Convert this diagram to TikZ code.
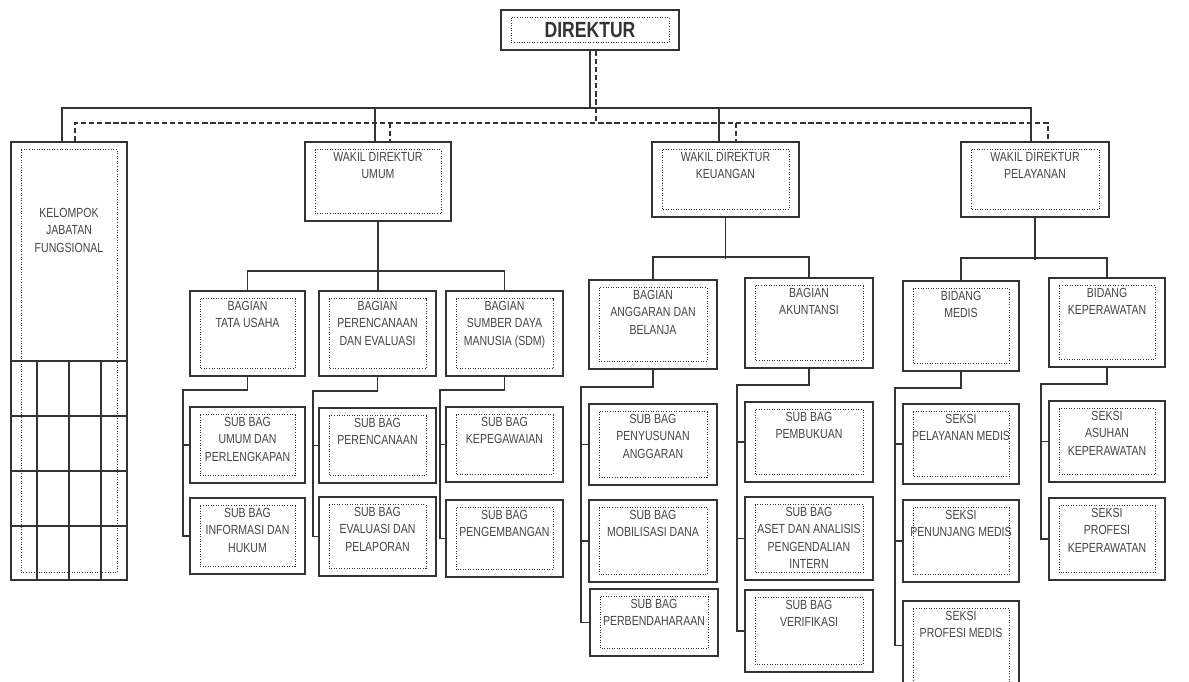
\documentclass[tikz,border=0pt]{standalone}
\usepackage{fontspec}
\usetikzlibrary{fit}
\newfontfamily\orgfont[FakeStretch=0.8]{Liberation Sans}
\definecolor{ink}{HTML}{333333}
\definecolor{txt}{HTML}{444444}

\begin{document}
\begin{tikzpicture}[x=0.02cm, y=-0.02cm,
  unit/.style={draw=ink, line width=1pt, inner sep=0pt, fit={#1},
    path picture={\draw[ink, line width=0.45pt, densely dotted]
      ([xshift=0.2cm, yshift=-0.15cm]path picture bounding box.north west) rectangle
      ([xshift=-0.2cm, yshift=0.15cm]path picture bounding box.south east);}},
  caption/.style={anchor=north, align=center, inner sep=0pt, text=txt, yshift=-0.22cm,
    font=\orgfont\fontsize{7.5}{9.8}\selectfont},
  conn/.style={ink, line width=0.9pt},
  dashline/.style={ink, line width=0.9pt, dash pattern=on 3pt off 1.6pt}]
\useasboundingbox (0,0) rectangle (1189,681);
\clip (0,0) rectangle (1189,681);

\node[unit={(501,10) (679,50)}, label={[anchor=center, inner sep=0pt, text=ink, font=\orgfont\bfseries\fontsize{12.5}{14}\selectfont]center:DIREKTUR}] (dir) {};

\node[unit={(11,142) (127,580)}, label={[caption, yshift=-1.12cm]north:{KELOMPOK\\JABATAN\\FUNGSIONAL}}] (kjf) {};
\foreach \gy in {361,416,471,526}
  \draw[conn] (kjf.west |- 0,\gy) -- (kjf.east |- 0,\gy);
\foreach \gx in {37,69,101}
  \draw[conn] (\gx,361) -- (\gx,0 |- kjf.south);

\node[unit={(305,142) (451,221)}, label={[caption]north:{WAKIL DIREKTUR\\UMUM}}] (wdu) {};
\node[unit={(652,142) (799,217)}, label={[caption]north:{WAKIL DIREKTUR\\KEUANGAN}}] (wdk) {};
\node[unit={(961,142) (1109,217)}, label={[caption]north:{WAKIL DIREKTUR\\PELAYANAN}}] (wdp) {};

\node[unit={(190,291) (305,376)}, label={[caption]north:{BAGIAN\\TATA USAHA}}] (btu) {};
\node[unit={(319,291) (436,376)}, label={[caption]north:{BAGIAN\\PERENCANAAN\\DAN EVALUASI}}] (bpe) {};
\node[unit={(446,291) (563,376)}, label={[caption]north:{BAGIAN\\SUMBER DAYA\\MANUSIA (SDM)}}] (bsd) {};
\node[unit={(190,407) (305,483)}, label={[caption]north:{SUB BAG\\UMUM DAN\\PERLENGKAPAN}}] (sup) {};
\node[unit={(190,498) (305,574)}, label={[caption]north:{SUB BAG\\INFORMASI DAN\\HUKUM}}] (sih) {};
\node[unit={(319,408) (436,483)}, label={[caption]north:{SUB BAG\\PERENCANAAN}}] (srn) {};
\node[unit={(319,497) (436,576)}, label={[caption]north:{SUB BAG\\EVALUASI DAN\\PELAPORAN}}] (sev) {};
\node[unit={(446,407) (563,482)}, label={[caption]north:{SUB BAG\\KEPEGAWAIAN}}] (skp) {};
\node[unit={(446,500) (563,577)}, label={[caption]north:{SUB BAG\\PENGEMBANGAN}}] (spg) {};

\node[unit={(589,280) (717,369)}, label={[caption]north:{BAGIAN\\ANGGARAN DAN\\BELANJA}}] (bag) {};
\node[unit={(745,278) (873,368)}, label={[caption]north:{BAGIAN\\AKUNTANSI}}] (bak) {};
\node[unit={(589,404) (717,485)}, label={[caption]north:{SUB BAG\\PENYUSUNAN\\ANGGARAN}}] (spy) {};
\node[unit={(589,500) (717,582)}, label={[caption]north:{SUB BAG\\MOBILISASI DANA}}] (smd) {};
\node[unit={(590,589) (718,656)}, label={[caption]north:{SUB BAG\\PERBENDAHARAAN}}] (spb) {};
\node[unit={(745,402) (873,482)}, label={[caption]north:{SUB BAG\\PEMBUKUAN}}] (spk) {};
\node[unit={(745,497) (873,580)}, label={[caption]north:{SUB BAG\\ASET DAN ANALISIS\\PENGENDALIAN\\INTERN}}] (sas) {};
\node[unit={(745,590) (873,672)}, label={[caption]north:{SUB BAG\\VERIFIKASI}}] (svf) {};

\node[unit={(903,281) (1019,371)}, label={[caption]north:{BIDANG\\MEDIS}}] (bmd) {};
\node[unit={(1049,278) (1165,367)}, label={[caption]north:{BIDANG\\KEPERAWATAN}}] (bkp) {};
\node[unit={(903,404) (1019,484)}, label={[caption]north:{SEKSI\\PELAYANAN MEDIS}}] (spl) {};
\node[unit={(903,500) (1019,582)}, label={[caption]north:{SEKSI\\PENUNJANG MEDIS}}] (spj) {};
\node[unit={(903,601) (1019,690)}, label={[caption]north:{SEKSI\\PROFESI MEDIS}}] (spm) {};
\node[unit={(1049,401) (1165,482)}, label={[caption]north:{SEKSI\\ASUHAN\\KEPERAWATAN}}] (sak) {};
\node[unit={(1049,498) (1165,580)}, label={[caption]north:{SEKSI\\PROFESI\\KEPERAWATAN}}] (spr) {};

\draw[conn] (dir.south) -- ++(0,57) coordinate (hub);
\draw[conn] (62,0 |- kjf.north) |- (hub) -| (1031,0 |- wdp.north);
\draw[conn] (375,0 |- hub) -- (375,0 |- wdu.north);
\draw[conn] (719,0 |- hub) -- (719,0 |- wdk.north);
\draw[dashline] ([xshift=0.12cm]dir.south) -- ++(0,72) coordinate (dhub);
\draw[dashline] (75,0 |- kjf.north) |- (dhub) -| (1048,0 |- wdp.north);
\draw[dashline] (390,0 |- dhub) -- (390,0 |- wdu.north);
\draw[dashline] (736,0 |- dhub) -- (736,0 |- wdk.north);

\draw[conn] (wdu.south) -- (wdu.south |- bpe.north);
\draw[conn] (btu.north) -- ++(0,-19) -| (bsd.north);
\draw[conn] (wdk.south) -- ++(0,41);
\draw[conn] (bag.north) -- ++(0,-22) -| (bak.north);
\draw[conn] (wdp.south) -- ++(0,42);
\draw[conn] (bmd.north) -- ++(0,-22) -| (bkp.north);

\draw[conn] (btu.south) -- ++(0,13) -| (183,0 |- sih.west) -- (sih.west);
\draw[conn] (183,0 |- sup.west) -- (sup.west);
\draw[conn] (bpe.south) -- ++(0,14) -| (313,0 |- sev.west) -- (sev.west);
\draw[conn] (313,0 |- srn.west) -- (srn.west);
\draw[conn] (bsd.south) -- ++(0,13) -| (440,0 |- spg.west) -- (spg.west);
\draw[conn] (440,0 |- skp.west) -- (skp.west);
\draw[conn] (bag.south) -- ++(0,17) -| (581,0 |- spb.west) -- (spb.west);
\foreach \n in {spy,smd}
  \draw[conn] (581,0 |- \n.west) -- (\n.west);
\draw[conn] (bak.south) -- ++(0,16) -| (737,0 |- svf.west) -- (svf.west);
\foreach \n in {spk,sas}
  \draw[conn] (737,0 |- \n.west) -- (\n.west);
\draw[conn] (bmd.south) -- ++(0,16) -| (895,0 |- spm.west) -- (spm.west);
\foreach \n in {spl,spj}
  \draw[conn] (895,0 |- \n.west) -- (\n.west);
\draw[conn] (bkp.south) -- ++(0,16) -| (1041,0 |- spr.west) -- (spr.west);
\draw[conn] (1041,0 |- sak.west) -- (sak.west);
\end{tikzpicture}
\end{document}
